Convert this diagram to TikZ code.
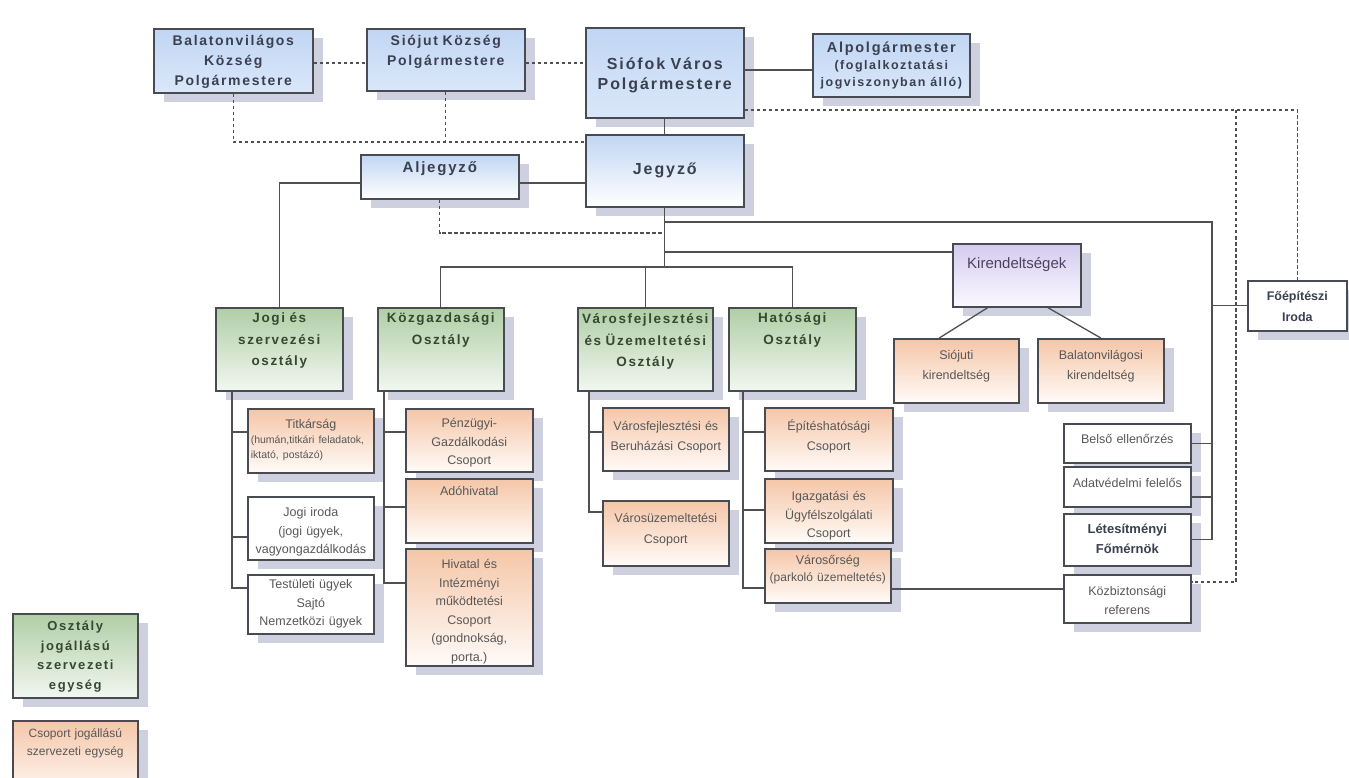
\documentclass[tikz,border=0pt]{standalone}
\usepackage{fontspec}
\setmainfont{Liberation Sans}
\newfontfamily\headfont[LetterSpace=12]{Liberation Sans}
\usetikzlibrary{shadows,calc}

\definecolor{blueT}{RGB}{193,214,243}
\definecolor{blueB}{RGB}{218,231,250}
\definecolor{greenT}{RGB}{176,206,166}
\definecolor{greenB}{RGB}{242,247,240}
\definecolor{orT}{RGB}{245,198,168}
\definecolor{orB}{RGB}{255,251,248}
\definecolor{lavT}{RGB}{212,203,238}
\definecolor{lavB}{RGB}{251,249,255}
\definecolor{shadowc}{RGB}{206,208,224}
\definecolor{boxc}{RGB}{72,76,82}
\definecolor{linec}{RGB}{80,80,80}
\definecolor{headtxt}{RGB}{58,64,80}
\definecolor{depttxt}{RGB}{52,72,50}
\definecolor{subtxt}{RGB}{88,88,88}
\definecolor{kirtxt}{RGB}{76,66,98}

\tikzset{
  doboz/.style={draw=boxc, line width=1.6pt, anchor=north west, inner sep=0pt, align=center,
    drop shadow={shadow xshift=10pt, shadow yshift=-9pt, fill=shadowc, opacity=1}},
  sz/.style n args={3}{text width=#1pt, text height=#2pt, text depth=#3pt},
  topbox/.style={doboz, top color=blueT, bottom color=blueB, text=headtxt,
    font=\headfont\bfseries\fontsize{14}{20}\selectfont},
  jegybox/.style={doboz, top color=blueT, bottom color=white, text=headtxt,
    font=\headfont\bfseries\fontsize{16}{20}\selectfont},
  osztaly/.style={doboz, top color=greenT, bottom color=greenB, text=depttxt,
    font=\headfont\bfseries\fontsize{13.5}{21.5}\selectfont},
  csoport/.style={doboz, top color=orT, bottom color=orB, text=subtxt,
    font=\fontsize{12.5}{18.5}\selectfont},
  feher/.style={doboz, fill=white, text=subtxt, font=\fontsize{12.5}{18.5}\selectfont},
  kirbox/.style={doboz, top color=lavT, bottom color=lavB, text=kirtxt,
    font=\fontsize{15}{18}\selectfont},
  conn/.style={draw=linec, line width=1.3pt},
  dots/.style={conn, dash pattern=on 3.5pt off 2.5pt},
}

\begin{document}
\begin{tikzpicture}[x=1pt,y=-1pt]
        \useasboundingbox (0,0) rectangle (1349,778);

        \node[topbox, sz={159}{17}{47}] (bal) at (153,28) {Balatonvilágos\\Község\\Polgármestere};
        \node[topbox, sz={158}{17}{45}] (sio) at (366,28) {Siójut Község\\Polgármestere};
        \node[topbox, sz={158}{42}{48}, font=\headfont\bfseries\fontsize{16}{20}\selectfont] (pm) at (585,27) {Siófok Város\\Polgármestere};
        \node[topbox, sz={157}{19}{44}, font=\headfont\bfseries\fontsize{14.5}{17}\selectfont] (alp) at (812,33) {Alpolgármester\\{\fontsize{12.5}{17}\selectfont (foglalkoztatási\\jogviszonyban álló)\par}};
        \node[jegybox, sz={158}{40}{32}] (jegy) at (585,134) {Jegyző};
        \node[jegybox, sz={158}{18}{26}, font=\headfont\bfseries\fontsize{15}{18}\selectfont] (aljegy) at (360,154) {Aljegyző};

        \node[kirbox, sz={128}{25}{38}] (kir) at (952,243) {Kirendeltségek};
        \node[feher, sz={99}{20}{30}, font=\bfseries\fontsize{12.5}{21}\selectfont, text=headtxt] (foep) at (1247,280) {Főépítészi\\Iroda};
        \node[csoport, sz={125}{21}{43}, font=\fontsize{12.5}{20}\selectfont] (siok) at (893,338) {Siójuti\\kirendeltség};
        \node[csoport, sz={126}{21}{43}, font=\fontsize{12.5}{20}\selectfont] (balk) at (1037,338) {Balatonvilágosi\\kirendeltség};

        \node[osztaly, sz={127}{15}{68}] (jogi) at (215,307) {Jogi és\\szervezési\\osztály};
        \node[osztaly, sz={126}{15}{68}] (kozg) at (377,307) {Közgazdasági\\Osztály};
        \node[osztaly, sz={135}{16}{67}] (varos) at (577,307) {Városfejlesztési\\és Üzemeltetési\\Osztály};
        \node[osztaly, sz={127}{15}{68}] (hat) at (728,307) {Hatósági\\Osztály};

        \node[csoport, sz={126}{20}{44}] (titk) at (247,408) {Titkárság\par{\fontsize{10.5}{15}\selectfont\raggedright\leftskip=3pt (humán,titkári feladatok, iktató, postázó)\par}};
        \node[feher, sz={126}{20}{43}] (jiroda) at (247,496) {Jogi iroda\\(jogi ügyek,\\vagyongazdálkodás};
        \node[feher, sz={126}{14}{45}] (test) at (247,574) {Testületi ügyek\\Sajtó\\Nemzetközi ügyek};

        \node[csoport, sz={127}{19}{44}] (penz) at (405,408) {Pénzügyi-\\Gazdálkodási\\Csoport};
        \node[csoport, sz={127}{17}{47}] (ado) at (405,478) {Adóhivatal};
        \node[csoport, sz={127}{20}{97}] (hiv) at (405,548) {Hivatal és\\Intézményi\\működtetési\\Csoport\\(gondnokság,\\porta.)};

        \node[csoport, sz={126}{23}{40}, font=\fontsize{12.5}{20}\selectfont] (vfb) at (602,407) {Városfejlesztési és\\Beruházási Csoport};
        \node[csoport, sz={126}{22}{43}, font=\fontsize{12.5}{20.5}\selectfont] (vuz) at (602,500) {Városüzemeltetési\\Csoport};

        \node[csoport, sz={128}{23}{40}, font=\fontsize{12.5}{20}\selectfont] (epit) at (764,407) {Építéshatósági\\Csoport};
        \node[csoport, sz={128}{22}{42}] (igaz) at (764,478) {Igazgatási és\\Ügyfélszolgálati\\Csoport};
        \node[csoport, sz={126}{16}{38}, font=\fontsize{12.5}{17}\selectfont] (vor) at (764,548) {Városőrség\\{\fontsize{12}{17}\selectfont(parkoló üzemeltetés)}};

        \node[feher, sz={127}{20}{19}] (bels) at (1063,423) {Belső ellenőrzés};
        \node[feher, sz={127}{21}{19}] (adat) at (1063,466) {Adatvédelmi felelős};
        \node[feher, sz={127}{20}{32}, font=\bfseries\fontsize{13}{20}\selectfont, text=headtxt] (letes) at (1063,513) {Létesítményi\\Főmérnök};
        \node[feher, sz={127}{21}{27}] (kozb) at (1063,574) {Közbiztonsági\\referens};

        \node[osztaly, sz={125}{17}{67}, font=\headfont\bfseries\fontsize{13}{19.5}\selectfont] (leg1) at (12,613) {Osztály\\jogállású\\szervezeti\\egység};
        \node[csoport, sz={125}{17}{60}, font=\fontsize{12}{18}\selectfont] (leg2) at (12,720) {Csoport jogállású\\szervezeti egység};

        \coordinate (vbar) at (1212,222);
        \coordinate (fodot) at (1236,110);

        \draw[dots] (bal.east |- 0,63) -- (sio.west |- 0,63);
        \draw[dots] (sio.east |- 0,63) -- (pm.west |- 0,63);
        \draw[conn] (pm.east |- 0,70) -- (alp.west |- 0,70);
        \draw[conn] (pm) -- (jegy);
        \draw[dots] (bal.south) |- (jegy.west |- 0,142);
        \draw[dots] (sio.south) -- (sio.south |- 0,142);
        \draw[dots] (pm.east |- 0,110) -| (foep.north);
        \draw[dots] (fodot) |- (kozb.east |- 0,582);

        \draw[conn] (aljegy.east |- 0,183) -- (jegy.west |- 0,183);
        \draw[conn] (aljegy.west |- 0,183) -| (jogi.north);
        \draw[dots] (aljegy.south) |- (jegy.south |- 0,233);
        \draw[conn] (jegy.south) -- (jegy.south |- 0,267);
        \draw[conn] (kozg.north) |- (hat.north |- 0,267) -- (hat.north);
        \draw[conn] (varos.north) -- (varos.north |- 0,267);

        \draw[conn] (jegy.south |- vbar) -- (vbar) |- (letes.east);
        \draw[conn] (bels.east) -- (bels.east -| vbar);
        \draw[conn] (adat.east |- 0,497) -- (vbar |- 0,497);
        \draw[conn] (foep.west) -- (foep.west -| vbar);
        \draw[conn] (jegy.south |- 0,252) -- (kir.west |- 0,252);
        \draw[conn] ($(kir.south)+(-29,0)$) -- ($(siok.north)+(-17,0)$);
        \draw[conn] ($(kir.south)+(31,0)$) -- (balk.north);

        \draw[conn] (jogi.south -| 232,0) |- (titk.west |- 0,432);
        \draw[conn] (jogi.south -| 232,0) |- (jiroda.west |- 0,537);
        \draw[conn] (jogi.south -| 232,0) |- (test.west |- 0,588);
        \draw[conn] (kozg.south -| 384,0) |- (penz.west |- 0,432);
        \draw[conn] (kozg.south -| 384,0) |- (ado.west |- 0,507);
        \draw[conn] (kozg.south -| 384,0) |- (hiv.west |- 0,583);
        \draw[conn] (varos.south -| 589,0) |- (vfb.west |- 0,432);
        \draw[conn] (varos.south -| 589,0) |- (vuz.west |- 0,512);
        \draw[conn] (hat.south -| 743,0) |- (epit.west |- 0,432);
        \draw[conn] (hat.south -| 743,0) |- (igaz.west |- 0,510);
        \draw[conn] (hat.south -| 743,0) |- (vor.west |- 0,588);
        \draw[conn] (vor.east |- 0,589) -- (kozb.west |- 0,589);

\end{tikzpicture}
\end{document}
